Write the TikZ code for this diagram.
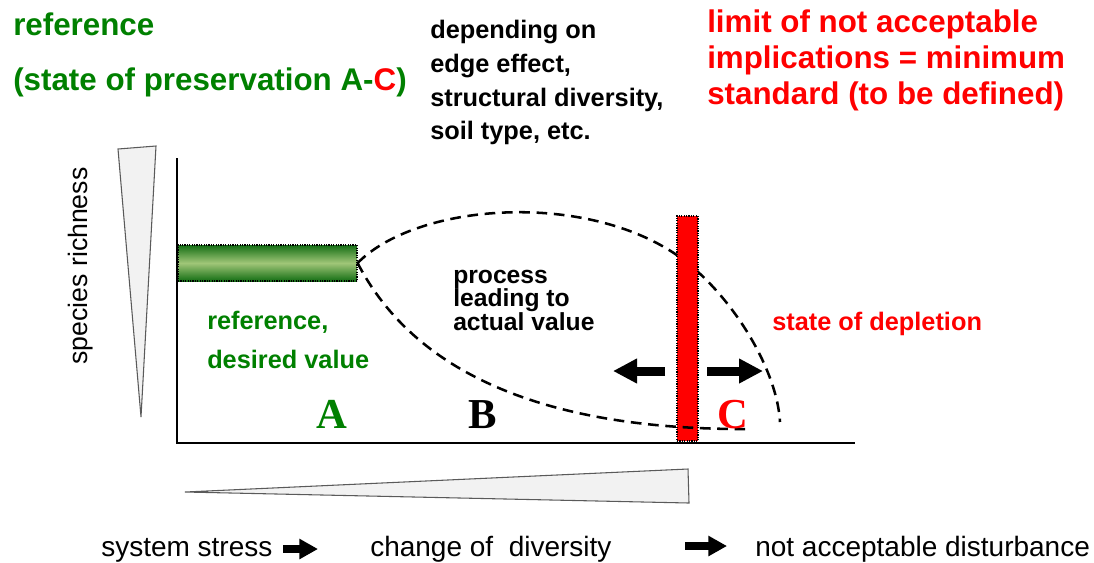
\documentclass[tikz,border=0pt]{standalone}
\usepackage{fontspec}
\setmainfont{Liberation Sans}
\newfontfamily\timesbf{Liberation Serif}
\usetikzlibrary{arrows.meta}
\definecolor{tgreen}{RGB}{0,128,0}
\definecolor{tred}{RGB}{255,0,0}
\definecolor{wedgefill}{RGB}{242,242,242}
\definecolor{wedgeline}{RGB}{90,90,90}
\definecolor{bardark}{RGB}{20,110,20}
\definecolor{barlight}{RGB}{160,198,120}
\begin{document}
\begin{tikzpicture}[x=0.75pt,y=-0.75pt,
  lbl/.style={anchor=base west, inner sep=0pt},
  big/.style={font=\fontsize{23.5}{28}\selectfont\bfseries},
  mid/.style={font=\fontsize{19}{23}\selectfont\bfseries},
  proc/.style={font=\fontsize{18.5}{22}\selectfont\bfseries},
  low/.style={font=\fontsize{21}{25}\selectfont},
  letter/.style={anchor=base, inner sep=0pt, font=\fontsize{32}{36}\selectfont\timesbf\bfseries},
  wedge/.style={fill=wedgefill, draw=wedgeline, line width=0.8pt, line join=miter},
  axis/.style={line width=2pt},
  dashcurve/.style={line width=1.9pt, dash pattern=on 8pt off 5pt},
  bigarrow/.style={line width=6.75pt, -{Triangle[length=18pt,width=17.5pt]}},
  smallarrow/.style={line width=6.2pt, -{Triangle[length=14pt,width=14.5pt]}},
  bar/.style={draw=black, dash pattern=on 0.9pt off 0.9pt, line width=0.9pt, inner sep=0pt}
]
\useasboundingbox (0,0) rectangle (1094,562);

% titles
\node[lbl,big,text=tgreen] (t1) at (13,35) {reference};
\node[lbl,big,text=tgreen] (t2) at (13,90) {(state of preservation A-\textcolor{tred}{C})};

\node[lbl,mid] (d1) at (430,38) {depending on};
\node[lbl,mid] (d2) at (430,72) {edge effect,};
\node[lbl,mid] (d3) at (430,106) {structural diversity,};
\node[lbl,mid] (d4) at (430,139) {soil type, etc.};

\node[lbl,big,text=tred] (r1) at (707,32) {limit of not acceptable};
\node[lbl,big,text=tred] (r2) at (707,68) {implications = minimum};
\node[lbl,big,text=tred] (r3) at (707,104) {standard (to be defined)};

% wedges
\draw[wedge] (118,149) -- (156,146) -- (141,417) -- cycle;
\draw[wedge] (185,492) -- (688,469) -- (689,503) -- cycle;

% axes
\coordinate (ytop) at (177,158);
\coordinate (O) at (177,443);
\coordinate (xend) at (855,443);
\draw[axis] (ytop) -- (O) -- (xend);

\node[rotate=90, inner sep=0pt, font=\fontsize{20}{24}\selectfont] (sr) at (81,266) {species richness};

% reference bar
\node[bar, minimum width=134.25pt, minimum height=27pt,
      top color=bardark, bottom color=bardark, middle color=barlight] (ref) at (267.5,263) {};

% upper dashed branch
\draw[dashcurve] (ref.east) .. controls (420,200) and (600,190) .. (690,265)
                 .. controls (735,302) and (777,370) .. (780,422);

% limit bar
\node[bar, fill=tred, minimum width=15.75pt, minimum height=168.75pt] (limitbar) at (687.5,328.5) {};

% lower dashed branch
\draw[dashcurve] (ref.east) .. controls (400,345) and (500,430) .. (747,429);

% arrows at limit
\coordinate (la1) at (665,371);
\coordinate (la2) at (613,371);
\coordinate (ra1) at (707,371);
\coordinate (ra2) at (763,371);
\draw[bigarrow] (la1) -- (la2);
\draw[bigarrow] (ra1) -- (ra2);

% labels in plot
\node[lbl,mid,text=tgreen] (g1) at (207,329) {reference,};
\node[lbl,mid,text=tgreen] (g2) at (207,368) {desired value};
\node[lbl,proc] (p1) at (453,283) {process};
\node[lbl,proc] (p2) at (453,306) {leading to};
\node[lbl,proc] (p3) at (453,330) {actual value};
\node[lbl,mid,text=tred] (sd) at (772,330) {state of depletion};

\node[letter,text=tgreen] (A) at (332,428) {A};
\node[letter] (B) at (483,428) {B};
\node[letter,text=tred] (C) at (733,428) {C};

% bottom line
\node[lbl,low] (b1) at (101,556) {system stress};
\node[lbl,low] (b2) at (370,556) {change of\ \ diversity};
\node[lbl,low] (b3) at (755,556) {not acceptable disturbance};
\coordinate (ba1) at (283,549);
\coordinate (ba2) at (318,549);
\coordinate (ba3) at (685,546);
\coordinate (ba4) at (727,546);
\draw[smallarrow] (ba1) -- (ba2);
\draw[smallarrow] (ba3) -- (ba4);
\end{tikzpicture}
\end{document}
